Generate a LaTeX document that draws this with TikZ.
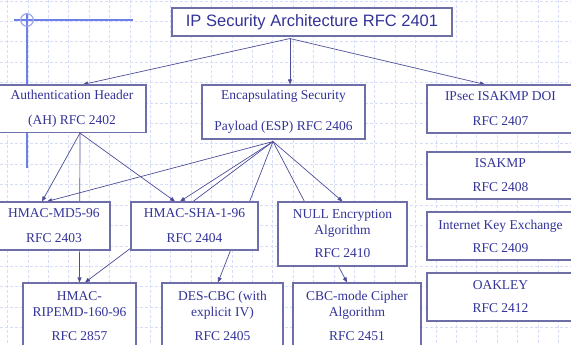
\documentclass[tikz,border=0pt]{standalone}
\usepackage{fontspec}
\setmainfont{Liberation Serif}
\newfontfamily\titlesans{Liberation Sans}
\usetikzlibrary{arrows.meta, calc, backgrounds}
\definecolor{ink}{HTML}{333399}
\definecolor{boxline}{HTML}{6E6EA8}
\definecolor{wire}{HTML}{4D4D99}
\definecolor{gridblue}{HTML}{D6DDF8}
\definecolor{markblue}{HTML}{6E80E6}
\definecolor{ringblue}{HTML}{9AA6EE}

\begin{document}
\begin{tikzpicture}[
    x=1pt, y=-1pt,
    rfcbox/.style={
        draw=boxline, line width=1.1pt, fill=white, text=ink,
        font=\fontsize{13.5}{16}\selectfont, align=center, inner sep=0pt
    },
    titlebox/.style={
        draw=boxline, line width=1.1pt, fill=white, text=ink,
        font=\titlesans\fontsize{16.5}{19}\selectfont, inner sep=0pt,
        minimum width=280pt, minimum height=28pt
    },
    link/.style={
        wire, line width=0.7pt, -{Triangle[length=5pt, width=4pt]}
    },
    gridline/.style={
        gridblue, line width=0.6pt, dash pattern=on 3pt off 2pt
    },
    decoline/.style={markblue, line width=1.4pt},
    decoring/.style={ringblue, line width=1.2pt}
]

% Page: 571 x 345 px, 1 unit = 1px, y grows downward
\useasboundingbox (0,0) rectangle (571,345);

% Slide background grid and corner mark
\begin{scope}[on background layer]
    \foreach \i in {0,...,27} {
        \draw[gridline] ({7.5+20.4*\i},0) -- ({7.5+20.4*\i},345);
    }
    \foreach \j in {0,...,16} {
        \draw[gridline] (0,{1+20.4*\j}) -- (571,{1+20.4*\j});
    }
    \draw[decoline] (14,20) -- (133,20);
    \draw[decoline] (27,14) -- (27,168);
    \draw[decoring] (27,20) circle[radius=6.3pt];
\end{scope}

% Top level
\node[titlebox] (arch) at (312,22) {IP Security Architecture RFC 2401};

% Second row
\node[rfcbox, minimum width=148pt, minimum height=47.5pt] (ah) at (72,108.75)
    {Authentication Header\\[9pt](AH) RFC 2402};
\node[rfcbox, minimum width=163pt, minimum height=54pt] (esp) at (283.5,112)
    {Encapsulating Security\\[15pt]Payload (ESP) RFC 2406};
\node[rfcbox, minimum width=147pt, minimum height=48pt] (doi) at (500.5,109)
    {IPsec ISAKMP DOI\\[9pt]RFC 2407};

% Key management column
\node[rfcbox, minimum width=147pt, minimum height=47pt] (isakmp) at (500.5,175.5)
    {ISAKMP\\[8pt]RFC 2408};
\node[rfcbox, minimum width=147pt, minimum height=48pt] (ike) at (500.5,236)
    {Internet Key Exchange\\[7pt]RFC 2409};
\node[rfcbox, minimum width=147pt, minimum height=48pt] (oakley) at (500.5,297)
    {OAKLEY\\[7pt]RFC 2412};

% Third row
\node[rfcbox, minimum width=112pt, minimum height=48pt] (md5) at (54,226)
    {HMAC-MD5-96\\[9pt]RFC 2403};
\node[rfcbox, minimum width=127pt, minimum height=48pt] (sha) at (194.5,226)
    {HMAC-SHA-1-96\\[9pt]RFC 2404};
\node[rfcbox, minimum width=129pt, minimum height=64pt] (nullenc) at (342.5,234)
    {NULL Encryption\\Algorithm\\[7pt]RFC 2410};

% Bottom row
\node[rfcbox, minimum width=113pt, minimum height=66pt] (ripemd) at (79.5,316)
    {HMAC-\\RIPEMD-160-96\\[8pt]RFC 2857};
\node[rfcbox, minimum width=121pt, minimum height=66pt] (des) at (222.5,316)
    {DES-CBC (with\\explicit IV)\\[8pt]RFC 2405};
\node[rfcbox, minimum width=128pt, minimum height=66pt] (cbc) at (357,316)
    {CBC-mode Cipher\\Algorithm\\[8pt]RFC 2451};

% Fan-out points
\coordinate (archout) at ([xshift=-22pt, yshift=-2pt]arch.south);
\coordinate (ahout) at ([xshift=8pt]ah.south);
\coordinate (espout) at ([xshift=-10.5pt, yshift=-2pt]esp.south);

% Connectors (behind the boxes)
\begin{scope}[on background layer]
    \draw[link] (archout) -- ([xshift=11pt]ah.north);
    \draw[link] (archout) -- ([xshift=6.5pt]esp.north);
    \draw[link] (archout) -- ([xshift=-15.5pt]doi.north);

    \draw[link] (ahout) -- ([xshift=-12pt]md5.north);
    \draw[link] (ahout) -- (ripemd.north);
    \draw[link] (ahout) -- ([xshift=-19.5pt]sha.north);

    \draw[link] (espout) -- ([xshift=-7pt]md5.north);
    \draw[link] (espout) -- ([xshift=-14.5pt]sha.north);
    \draw[link] (espout) -- ([xshift=5.5pt]ripemd.north);
    \draw[link] (espout) -- ([xshift=-4.5pt]des.north);
    \draw[link] (espout) -- (nullenc.north);
    \draw[link] (espout) -- ([xshift=-10pt]cbc.north);
\end{scope}

\end{tikzpicture}
\end{document}
